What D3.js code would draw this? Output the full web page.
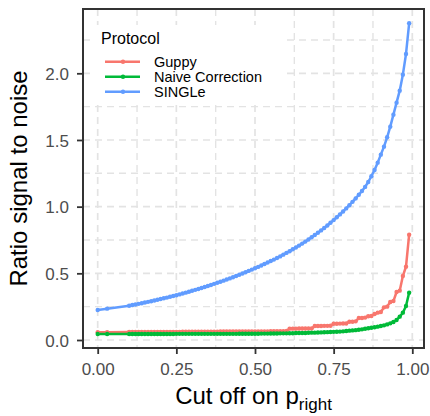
<!DOCTYPE html>
<html>
<head>
<meta charset="utf-8">
<script src="https://cdn.jsdelivr.net/npm/d3@7"></script>
<style>
  body { margin: 0; background: #fff; }
  text { font-family: "Liberation Sans", Arial, sans-serif; }
</style>
</head>
<body>
<div id="chart"></div>
<script>
// cut off values on p_right
const cutoffs = [0, 0.03, 0.10,
  0.11, 0.12, 0.13, 0.14, 0.15, 0.16, 0.17, 0.18, 0.19,
  0.20, 0.21, 0.22, 0.23, 0.24, 0.25, 0.26, 0.27, 0.28, 0.29,
  0.30, 0.31, 0.32, 0.33, 0.34, 0.35, 0.36, 0.37, 0.38, 0.39,
  0.40, 0.41, 0.42, 0.43, 0.44, 0.45, 0.46, 0.47, 0.48, 0.49,
  0.50, 0.51, 0.52, 0.53, 0.54, 0.55, 0.56, 0.57, 0.58, 0.59,
  0.60, 0.61, 0.62, 0.63, 0.64, 0.65, 0.66, 0.67, 0.68, 0.69,
  0.70, 0.71, 0.72, 0.73, 0.74, 0.75, 0.76, 0.77, 0.78, 0.79,
  0.80, 0.81, 0.82, 0.83, 0.84, 0.85, 0.86, 0.87, 0.88, 0.89,
  0.90, 0.91, 0.92, 0.93, 0.94, 0.95, 0.96, 0.97, 0.98, 0.99];

const guppy = [0.058, 0.058, 0.060,
  0.060, 0.060, 0.060, 0.060, 0.060, 0.060, 0.060, 0.060, 0.060,
  0.060, 0.060, 0.061, 0.061, 0.061, 0.061, 0.061, 0.062, 0.062, 0.062,
  0.062, 0.062, 0.062, 0.063, 0.063, 0.063, 0.063, 0.063, 0.063, 0.064,
  0.064, 0.064, 0.064, 0.064, 0.064, 0.065, 0.065, 0.065, 0.065, 0.065,
  0.065, 0.065, 0.065, 0.065, 0.065, 0.066, 0.066, 0.066, 0.066, 0.066,
  0.067, 0.085, 0.085, 0.085, 0.086, 0.086, 0.086, 0.087, 0.087, 0.105,
  0.105, 0.105, 0.106, 0.106, 0.107, 0.122, 0.122, 0.123, 0.124, 0.124,
  0.137, 0.137, 0.140, 0.165, 0.165, 0.168, 0.178, 0.180, 0.195, 0.205,
  0.210, 0.245, 0.250, 0.285, 0.292, 0.360, 0.370, 0.480, 0.550, 0.790];

const naive = [0.045, 0.045, 0.045,
  0.045, 0.045, 0.045, 0.045, 0.045, 0.045, 0.045, 0.045, 0.045,
  0.045, 0.045, 0.045, 0.045, 0.045, 0.046, 0.046, 0.046, 0.046, 0.046,
  0.046, 0.046, 0.046, 0.046, 0.046, 0.046, 0.046, 0.046, 0.046, 0.046,
  0.046, 0.046, 0.046, 0.046, 0.046, 0.047, 0.047, 0.047, 0.047, 0.047,
  0.047, 0.047, 0.048, 0.048, 0.048, 0.049, 0.049, 0.049, 0.050, 0.050,
  0.050, 0.051, 0.051, 0.052, 0.052, 0.053, 0.053, 0.054, 0.055, 0.055,
  0.056, 0.057, 0.058, 0.059, 0.060, 0.061, 0.062, 0.063, 0.065, 0.067,
  0.070, 0.072, 0.074, 0.077, 0.080, 0.084, 0.088, 0.092, 0.096, 0.100,
  0.105, 0.110, 0.117, 0.125, 0.135, 0.150, 0.175, 0.205, 0.255, 0.355];

const single = [0.225, 0.235, 0.257,
  0.262, 0.266, 0.271, 0.276, 0.281, 0.286, 0.291, 0.296, 0.302,
  0.307, 0.313, 0.318, 0.324, 0.330, 0.336, 0.342, 0.349, 0.355, 0.362,
  0.369, 0.376, 0.383, 0.390, 0.398, 0.405, 0.413, 0.421, 0.429, 0.437,
  0.445, 0.454, 0.462, 0.471, 0.480, 0.489, 0.499, 0.508, 0.518, 0.528,
  0.538, 0.548, 0.559, 0.570, 0.581, 0.592, 0.603, 0.615, 0.627, 0.640,
  0.653, 0.666, 0.680, 0.694, 0.708, 0.723, 0.738, 0.754, 0.770, 0.787,
  0.804, 0.822, 0.840, 0.859, 0.879, 0.899, 0.920, 0.942, 0.964, 0.987,
  1.011, 1.036, 1.062, 1.089, 1.117, 1.148, 1.185, 1.228, 1.275, 1.330,
  1.390, 1.450, 1.520, 1.600, 1.690, 1.780, 1.870, 1.990, 2.145, 2.375];

const protocols = ["Guppy", "Naive Correction", "SINGLe"];
const colors = ["#F8766D", "#00BA38", "#619CFF"];
const xTicks = [0, 0.25, 0.5, 0.75, 1];
const yTicks = [0, 0.5, 1, 1.5, 2];
const xMinor = [0.125, 0.375, 0.625, 0.875];
const yMinor = [0.25, 0.75, 1.25, 1.75, 2.25];

const series = [guppy, naive, single].map((vals, k) => ({
  name: protocols[k],
  color: colors[k],
  values: vals.map((v, i) => ({ x: cutoffs[i], y: v }))
}));

const W = 430, H = 416;
const panel = { left: 83, right: 424, top: 9, bottom: 348 };

const x = d3.scaleLinear().domain([0, 1]).range([97.7, 412.3]);
const y = d3.scaleLinear().domain([0, 2]).range([340, 73.3]);

const svg = d3.select("#chart")
  .append("svg")
  .attr("width", W)
  .attr("height", H);

svg.append("rect").attr("width", W).attr("height", H).attr("fill", "#fff");

// grid (dashed, major + minor)
const grid = svg.append("g").attr("stroke", "#e3e3e3").attr("stroke-dasharray", "7,5");
grid.selectAll(".gx")
  .data(xTicks.concat(xMinor))
  .join("line")
  .attr("x1", d => x(d)).attr("x2", d => x(d))
  .attr("y1", panel.top).attr("y2", panel.bottom)
  .attr("stroke-width", (d, i) => i < xTicks.length ? 1.7 : 1.4);
grid.selectAll(".gy")
  .data(yTicks.concat(yMinor))
  .join("line")
  .attr("y1", d => y(d)).attr("y2", d => y(d))
  .attr("x1", panel.left).attr("x2", panel.right)
  .attr("stroke-width", (d, i) => i < yTicks.length ? 1.7 : 1.4);

// legend background (drawn over the grid)
const legend = svg.append("g").attr("transform", "translate(93,25)");
legend.append("rect")
  .attr("width", 192).attr("height", 80)
  .attr("fill", "#fff");

// axes
const xAxis = svg.append("g")
  .attr("transform", `translate(0,${panel.bottom})`)
  .call(d3.axisBottom(x).tickValues(xTicks).tickFormat(d3.format(".2f")).tickSize(6).tickPadding(4));
const yAxis = svg.append("g")
  .attr("transform", `translate(${panel.left},0)`)
  .call(d3.axisLeft(y).tickValues(yTicks).tickFormat(d3.format(".1f")).tickSize(6).tickPadding(8));
[xAxis, yAxis].forEach(a => {
  a.select(".domain").remove();
  a.selectAll(".tick line").attr("stroke", "#333").attr("stroke-width", 1.8);
  a.selectAll(".tick text")
    .attr("fill", "#4d4d4d")
    .style("font-size", "17px")
    .style("font-family", "'Liberation Sans', Arial, sans-serif");
});
xAxis.selectAll(".tick text").attr("dy", "1em");
yAxis.selectAll(".tick text").attr("dy", "0.36em");

// lines then points
const line = d3.line().x(d => x(d.x)).y(d => y(d.y));
svg.append("g")
  .selectAll("path")
  .data(series)
  .join("path")
  .attr("d", d => line(d.values))
  .attr("fill", "none")
  .attr("stroke", d => d.color)
  .attr("stroke-width", 2.5)
  .attr("stroke-linejoin", "round");

svg.append("g")
  .selectAll("g")
  .data(series)
  .join("g")
  .attr("fill", d => d.color)
  .selectAll("circle")
  .data(d => d.values)
  .join("circle")
  .attr("cx", d => x(d.x))
  .attr("cy", d => y(d.y))
  .attr("r", 2.2);

// panel border
svg.append("rect")
  .attr("x", panel.left).attr("y", panel.top)
  .attr("width", panel.right - panel.left)
  .attr("height", panel.bottom - panel.top)
  .attr("fill", "none")
  .attr("stroke", "#333")
  .attr("stroke-width", 2);

// legend contents
legend.append("text")
  .attr("x", 8).attr("y", 19)
  .style("font-size", "16px")
  .text("Protocol");
const keys = legend.selectAll(".key")
  .data(series)
  .join("g")
  .attr("transform", (d, i) => `translate(0,${36.7 + i * 15})`);
keys.append("line")
  .attr("x1", 12).attr("x2", 47)
  .attr("stroke", d => d.color)
  .attr("stroke-width", 2.5);
keys.append("circle")
  .attr("cx", 30).attr("r", 2.2)
  .attr("fill", d => d.color);
keys.append("text")
  .attr("x", 61).attr("dy", "0.35em")
  .style("font-size", "14.5px")
  .text(d => d.name);

// axis titles
const xt = svg.append("text")
  .attr("x", (panel.left + panel.right) / 2)
  .attr("y", 404)
  .attr("text-anchor", "middle")
  .style("font-size", "24px");
xt.append("tspan").text("Cut off on p");
xt.append("tspan").attr("dy", 6).style("font-size", "17px").text("right");

svg.append("text")
  .attr("transform", `translate(27,${(panel.top + panel.bottom) / 2}) rotate(-90)`)
  .attr("text-anchor", "middle")
  .style("font-size", "24px")
  .text("Ratio signal to noise");
</script>
</body>
</html>
